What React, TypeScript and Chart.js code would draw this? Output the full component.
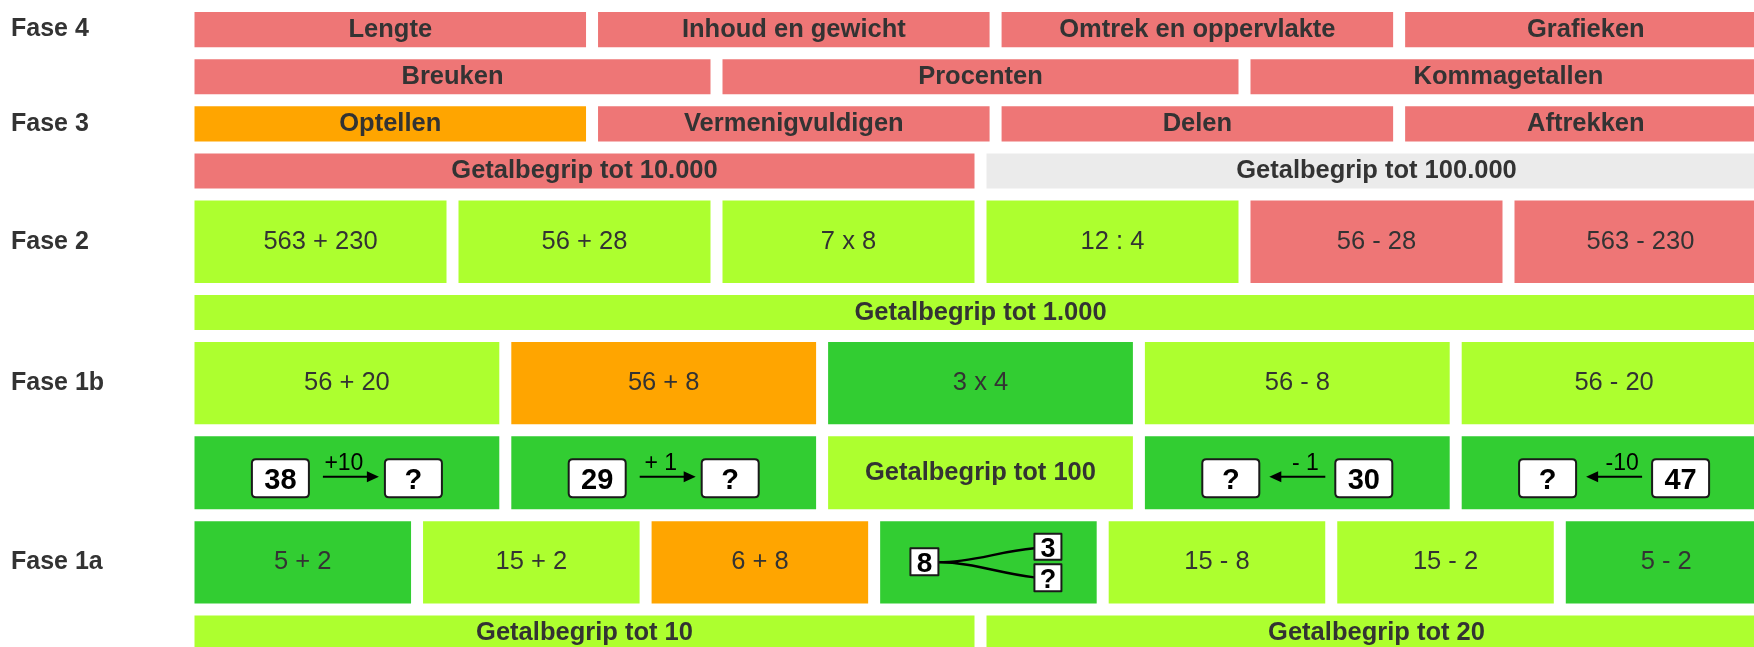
import React, { useEffect, useRef } from 'react';
import { Chart, registerables } from 'chart.js';

Chart.register(...registerables);

const RED = '#EE7676';
const ORANGE = '#FFA500';
const GRAY = '#EBEBEB';
const LIME = '#ADFF2F';
const GREEN = '#32CD32';
const FONT = '"Liberation Sans", Arial, Helvetica, sans-serif';
const TEXT = '#333333';

// y-axis labels and the row (0 = top) they belong to
const faseLabels = ['Fase 4', 'Fase 3', 'Fase 2', 'Fase 1b', 'Fase 1a'];
const faseRows = [0, 2, 4, 6, 8];

// Row 1 (Fase 4)
const row1Labels = ['Lengte', 'Inhoud en gewicht', 'Omtrek en oppervlakte', 'Grafieken'];
const row1Colors = [RED, RED, RED, RED];
const row1Edges = [0, 107, 214, 321, 420];
// Row 2
const row2Labels = ['Breuken', 'Procenten', 'Kommagetallen'];
const row2Colors = [RED, RED, RED];
const row2Edges = [0, 140, 280, 420];
// Row 3 (Fase 3)
const row3Labels = ['Optellen', 'Vermenigvuldigen', 'Delen', 'Aftrekken'];
const row3Colors = [ORANGE, RED, RED, RED];
const row3Edges = [0, 107, 214, 321, 420];
// Row 4
const row4Labels = ['Getalbegrip tot 10.000', 'Getalbegrip tot 100.000'];
const row4Colors = [RED, GRAY];
const row4Edges = [0, 210, 420];
// Row 5 (Fase 2)
const row5Labels = ['563 + 230', '56 + 28', '7 x 8', '12 : 4', '56 - 28', '563 - 230'];
const row5Colors = [LIME, LIME, LIME, LIME, RED, RED];
const row5Edges = [0, 70, 140, 210, 280, 350, 420];
// Row 6
const row6Labels = ['Getalbegrip tot 1.000'];
const row6Colors = [LIME];
const row6Edges = [0, 420];
// Row 7 (Fase 1b)
const row7Labels = ['56 + 20', '56 + 8', '3 x 4', '56 - 8', '56 - 20'];
const row7Colors = [LIME, ORANGE, GREEN, LIME, LIME];
const row7Edges = [0, 84, 168, 252, 336, 420];
// Row 8: number-line jumps
const row8Labels = ['', '', 'Getalbegrip tot 100', '', ''];
const row8Colors = [GREEN, GREEN, LIME, GREEN, GREEN];
const row8Edges = [0, 84, 168, 252, 336, 420];
const jumpFrom = ['38', '29', '', '?', '?'];
const jumpStep = ['+10', '+ 1', '', '- 1', '-10'];
const jumpTo = ['?', '?', '', '30', '47'];
const jumpDir = [1, 1, 0, -1, -1];
// Row 9 (Fase 1a)
const row9Labels = ['5 + 2', '15 + 2', '6 + 8', '', '15 - 8', '15 - 2', '5 - 2'];
const row9Colors = [GREEN, LIME, ORANGE, GREEN, LIME, LIME, GREEN];
const row9Edges = [0, 60.6, 121.2, 181.8, 242.4, 303, 363.6, 420];
const splitWhole = '8';
const splitParts = ['3', '?'];
const splitBox = 3;
// Row 10
const row10Labels = ['Getalbegrip tot 10', 'Getalbegrip tot 20'];
const row10Colors = [LIME, LIME];
const row10Edges = [0, 210, 420];

// layout: row heights in row units, and label weight per row
const rowSpans = [1, 1, 1, 1, 2, 1, 2, 1.8, 2, 1];
const rowBold = [true, true, true, true, false, true, false, true, false, true];

const rows = [
  { labels: row1Labels, colors: row1Colors, edges: row1Edges },
  { labels: row2Labels, colors: row2Colors, edges: row2Edges },
  { labels: row3Labels, colors: row3Colors, edges: row3Edges },
  { labels: row4Labels, colors: row4Colors, edges: row4Edges },
  { labels: row5Labels, colors: row5Colors, edges: row5Edges },
  { labels: row6Labels, colors: row6Colors, edges: row6Edges },
  { labels: row7Labels, colors: row7Colors, edges: row7Edges },
  { labels: row8Labels, colors: row8Colors, edges: row8Edges },
  { labels: row9Labels, colors: row9Colors, edges: row9Edges },
  { labels: row10Labels, colors: row10Colors, edges: row10Edges },
];

function rowCenters(): number[] {
  let t = 0;
  return rowSpans.map((s) => {
    const c = t + s / 2;
    t += s;
    return c;
  });
}

function rrect(ctx: CanvasRenderingContext2D, x: number, y: number, w: number, h: number, r: number) {
  ctx.beginPath();
  ctx.moveTo(x + r, y);
  ctx.lineTo(x + w - r, y);
  ctx.quadraticCurveTo(x + w, y, x + w, y + r);
  ctx.lineTo(x + w, y + h - r);
  ctx.quadraticCurveTo(x + w, y + h, x + w - r, y + h);
  ctx.lineTo(x + r, y + h);
  ctx.quadraticCurveTo(x, y + h, x, y + h - r);
  ctx.lineTo(x, y + r);
  ctx.quadraticCurveTo(x, y, x + r, y);
  ctx.closePath();
}

function numBox(ctx: CanvasRenderingContext2D, x: number, y: number, w: number, h: number, r: number, text: string, size: number) {
  rrect(ctx, x, y, w, h, r);
  ctx.fillStyle = '#ffffff';
  ctx.fill();
  ctx.lineWidth = 2;
  ctx.strokeStyle = '#1a1a1a';
  ctx.stroke();
  ctx.fillStyle = '#000000';
  ctx.font = `bold ${size}px ${FONT}`;
  ctx.textAlign = 'center';
  ctx.textBaseline = 'alphabetic';
  ctx.fillText(text, x + w / 2, y + h / 2 + 0.358 * size);
}

function drawJump(ctx: CanvasRenderingContext2D, cx: number, cy: number, from: string, step: string, to: string, dir: number) {
  const by = cy - 13.5;
  numBox(ctx, cx - 95, by, 57, 38, 4, from, 29);
  numBox(ctx, cx + 38, by, 57, 38, 4, to, 29);
  const ay = cy + 4;
  const tail = dir > 0 ? cx - 24 : cx + 28;
  const tip = dir > 0 ? cx + 32 : cx - 28;
  ctx.strokeStyle = '#000000';
  ctx.lineWidth = 2;
  ctx.beginPath();
  ctx.moveTo(tail, ay);
  ctx.lineTo(tip - dir * 8, ay);
  ctx.stroke();
  ctx.fillStyle = '#000000';
  ctx.beginPath();
  ctx.moveTo(tip, ay);
  ctx.lineTo(tip - dir * 12, ay - 5.5);
  ctx.lineTo(tip - dir * 12, ay + 5.5);
  ctx.closePath();
  ctx.fill();
  ctx.font = `23px ${FONT}`;
  ctx.textAlign = 'center';
  ctx.textBaseline = 'alphabetic';
  ctx.fillText(step, dir > 0 ? cx - 3 : cx + 8, cy - 2.5);
}

function drawSplit(ctx: CanvasRenderingContext2D, cx: number, cy: number, whole: string, parts: string[]) {
  ctx.strokeStyle = '#000000';
  ctx.lineWidth = 2.5;
  ctx.beginPath();
  ctx.moveTo(cx - 50, cy);
  ctx.bezierCurveTo(cx - 15, cy, cx + 10, cy - 11, cx + 46, cy - 14);
  ctx.moveTo(cx - 50, cy);
  ctx.bezierCurveTo(cx - 15, cy, cx + 10, cy + 11, cx + 46, cy + 15);
  ctx.stroke();
  numBox(ctx, cx - 78, cy - 14, 28, 27, 0.01, whole, 28);
  numBox(ctx, cx + 46, cy - 28.5, 27, 26, 0.01, parts[0], 27);
  numBox(ctx, cx + 46, cy + 2, 27, 27, 0.01, parts[1], 27);
}

const labelPlugin = {
  id: 'boxLabels',
  afterDatasetsDraw(chart: any) {
    const ctx: CanvasRenderingContext2D = chart.ctx;
    ctx.save();
    chart.data.datasets.forEach((_ds: any, r: number) => {
      const meta = chart.getDatasetMeta(r);
      meta.data.forEach((el: any, j: number) => {
        const p = el.getProps(['x', 'y', 'base'], true);
        const cx = (p.x + p.base) / 2;
        const cy = p.y;
        if (r === 7 && jumpDir[j] !== 0) {
          drawJump(ctx, cx, cy, jumpFrom[j], jumpStep[j], jumpTo[j], jumpDir[j]);
          return;
        }
        if (r === 8 && j === splitBox) {
          drawSplit(ctx, cx, cy, splitWhole, splitParts);
          return;
        }
        const label = rows[r].labels[j];
        if (!label) return;
        ctx.fillStyle = TEXT;
        ctx.font = `${rowBold[r] ? 'bold ' : ''}25.5px ${FONT}`;
        ctx.textAlign = 'center';
        ctx.textBaseline = 'middle';
        ctx.fillText(label, cx, cy);
      });
    });
    ctx.restore();
  },
};

export default function App() {
  const ref = useRef<HTMLCanvasElement>(null);

  useEffect(() => {
    const canvas = ref.current;
    if (!canvas) return;
    const centers = rowCenters();
    const datasets = rows.map((row, r) => ({
      label: `row${r + 1}`,
      data: row.labels.map((_l, j) => ({ x: [row.edges[j], row.edges[j + 1]], y: centers[r] })),
      backgroundColor: row.colors,
      borderColor: '#ffffff',
      borderWidth: 6,
      borderSkipped: false,
      inflateAmount: 0,
      grouped: false,
      barPercentage: rowSpans[r],
      categoryPercentage: 1,
    }));

    const chart = new Chart(canvas, {
      type: 'bar',
      data: { datasets: datasets as any },
      options: {
        indexAxis: 'y',
        responsive: false,
        animation: false,
        events: [],
        layout: { padding: { left: 11, top: 6, right: 17.5, bottom: 13.9 } },
        plugins: { legend: { display: false }, tooltip: { enabled: false } },
        scales: {
          x: { type: 'linear', min: 0, max: 420, display: false, offset: false },
          y: {
            type: 'linear',
            reverse: true,
            offset: false,
            min: 0,
            max: 14,
            grid: { display: false, offset: false },
            border: { display: false },
            afterBuildTicks: (scale: any) => {
              scale.ticks = faseRows.map((r) => ({ value: centers[r] }));
            },
            afterFit: (scale: any) => {
              scale.width = 177.5;
              scale.paddingTop = 0;
              scale.paddingBottom = 0;
            },
            ticks: {
              autoSkip: false,
              crossAlign: 'far',
              padding: 0,
              color: TEXT,
              font: { family: FONT, size: 25, weight: 'bold' },
              callback: (_v: any, i: number) => faseLabels[i],
            },
          },
        },
      } as any,
      plugins: [labelPlugin],
    });
    return () => chart.destroy();
  }, []);

  return (
    <div style={{ position: 'fixed', left: 0, top: 0, width: '100vw', height: '100vh', overflow: 'hidden', background: '#ffffff' }}>
      <canvas ref={ref} width={1790} height={680} style={{ display: 'block' }} />
    </div>
  );
}
